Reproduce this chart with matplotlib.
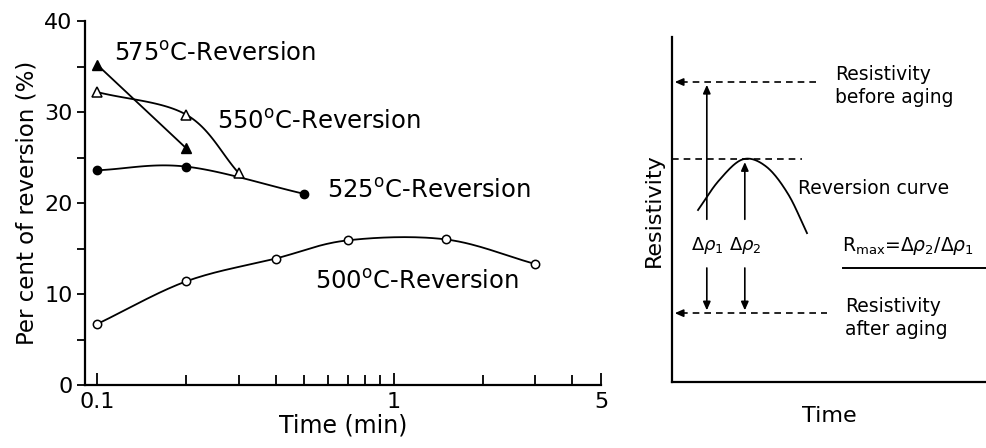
import numpy as np
import matplotlib
matplotlib.use("Agg")
import matplotlib.pyplot as plt

# reversion measurements (time in min, percent of reversion)
t_575 = [0.1, 0.2]
r_575 = [35.2, 26.0]
t_550 = [0.1, 0.2, 0.3]
r_550 = [32.2, 29.7, 23.3]
t_525 = [0.1, 0.2, 0.5]
r_525 = [23.6, 24.0, 21.0]
t_500 = [0.1, 0.2, 0.4, 0.7, 1.5, 3.0]
r_500 = [6.7, 11.4, 13.9, 15.9, 16.0, 13.3]

# schematic reversion curve on the right (normalised coordinates)
curve_x = [0.083, 0.15, 0.226, 0.30, 0.37, 0.43]
curve_y = [0.499, 0.585, 0.646, 0.625, 0.545, 0.432]
level_before = 0.870
level_peak = 0.646
level_after = 0.200


def smooth(xs, ys, logx=False, n=30):
    """Catmull-Rom curve through the given points (for drawing only)."""
    x = np.log10(xs) if logx else np.asarray(xs, float)
    y = np.asarray(ys, float)
    if len(x) < 3:
        return np.asarray(xs, float), y
    px = np.concatenate([[2 * x[0] - x[1]], x, [2 * x[-1] - x[-2]]])
    py = np.concatenate([[2 * y[0] - y[1]], y, [2 * y[-1] - y[-2]]])
    ox, oy = [], []
    s = np.linspace(0, 1, n)
    for i in range(1, len(px) - 2):
        for arr, out in ((px, ox), (py, oy)):
            p0, p1, p2, p3 = arr[i - 1:i + 3]
            out.extend(0.5 * (2 * p1 + (-p0 + p2) * s
                              + (2 * p0 - 5 * p1 + 4 * p2 - p3) * s ** 2
                              + (-p0 + 3 * p1 - 3 * p2 + p3) * s ** 3))
    ox = np.array(ox)
    return (10 ** ox if logx else ox), np.array(oy)


plt.rcParams["font.family"] = "DejaVu Sans"
fig = plt.figure(figsize=(9.86, 4.48), dpi=100)

# ---- left: percent of reversion vs time ----
ax = fig.add_axes([0.0862, 0.1406, 0.5233, 0.8124])
ax.set_xscale("log")
ax.set_xlim(0.091, 5)
ax.set_ylim(0, 40)

lw = 1.3
ax.plot(t_575, r_575, color="black", lw=lw, zorder=2)
for tx, ry in ((t_550, r_550), (t_525, r_525), (t_500, r_500)):
    sx, sy = smooth(tx, ry, logx=True)
    ax.plot(sx, sy, color="black", lw=lw, zorder=2)

ms = 6
ax.plot(t_575, r_575, "^", color="black", ms=ms + 1, zorder=3)
ax.plot(t_550, r_550, "^", mfc="white", mec="black", mew=1.1, ms=ms + 1, zorder=3)
ax.plot(t_525, r_525, "o", color="black", ms=ms, zorder=3)
ax.plot(t_500, r_500, "o", mfc="white", mec="black", mew=1.1, ms=ms, zorder=3)

fs = 17.5
ax.text(0.114, 36.4, "575$^{\\rm o}$C-Reversion", fontsize=fs, va="center")
ax.text(0.253, 28.9, "550$^{\\rm o}$C-Reversion", fontsize=fs, va="center")
ax.text(0.596, 21.3, "525$^{\\rm o}$C-Reversion", fontsize=fs, va="center")
ax.text(0.542, 11.3, "500$^{\\rm o}$C-Reversion", fontsize=fs, va="center")

for side in ("top", "right"):
    ax.spines[side].set_visible(False)
for side in ("left", "bottom"):
    ax.spines[side].set_linewidth(1.6)

ax.set_yticks([0, 10, 20, 30, 40])
ax.set_yticks([5, 15, 25, 35], minor=True)
ax.tick_params(axis="y", which="both", direction="out", length=6, width=1.3,
               labelsize=16, pad=3)
ax.set_xticks([0.1, 1, 5])
ax.set_xticklabels(["0.1", "1", "5"])
ax.set_xticks([0.2, 0.3, 0.4, 0.5, 0.6, 0.7, 0.8, 0.9, 2, 3, 4], minor=True)
ax.xaxis.set_minor_formatter(matplotlib.ticker.NullFormatter())
ax.tick_params(axis="x", which="major", direction="in", length=9, width=1.3,
               labelsize=16, pad=5)
ax.tick_params(axis="x", which="minor", direction="in", length=7, width=1.3)
ax.set_xlabel("Time (min)", fontsize=17, labelpad=1)
ax.set_ylabel("Per cent of reversion (%)", fontsize=16.5, labelpad=4)

# ---- right: definition of maximum reversion ----
bx = fig.add_axes([0.6815, 0.147, 0.3185, 0.770])
bx.set_xlim(0, 1)
bx.set_ylim(0, 1)
for side in ("top", "right"):
    bx.spines[side].set_visible(False)
for side in ("left", "bottom"):
    bx.spines[side].set_linewidth(1.6)
bx.set_xticks([])
bx.set_yticks([])
bx.set_xlabel("Time", fontsize=16, labelpad=17)
bx.set_ylabel("Resistivity", fontsize=16, labelpad=6)

dash = dict(color="black", lw=1.2, ls=(0, (4, 3)))
bx.plot([0.03, 0.465], [level_before] * 2, **dash)
bx.plot([0.0, 0.414], [level_peak] * 2, **dash)
bx.plot([0.03, 0.494], [level_after] * 2, **dash)
head = dict(arrowstyle="-|>,head_length=0.5,head_width=0.22", color="black", lw=1.2)
for lvl in (level_before, level_after):
    bx.annotate("", xy=(0.0, lvl), xytext=(0.04, lvl), arrowprops=head)

cx, cy = smooth(curve_x, curve_y)
bx.plot(cx, cy, color="black", lw=1.3)

for ax_x, top, name in ((0.111, level_before, "1"), (0.232, level_peak, "2")):
    bx.annotate("", xy=(ax_x, top), xytext=(ax_x, 0.464), arrowprops=head)
    bx.annotate("", xy=(ax_x, level_after), xytext=(ax_x, 0.339), arrowprops=head)
    bx.text(ax_x, 0.395, "$\\Delta\\rho_{%s}$" % name, fontsize=13,
            ha="center", va="center")

bx.text(0.519, 0.858, "Resistivity\nbefore aging", fontsize=13.5, va="center",
        linespacing=1.25)
bx.text(0.401, 0.562, "Reversion curve", fontsize=13.5, va="center")
bx.text(0.540, 0.395, "R$_{\\rm max}$=$\\Delta\\rho_2/\\Delta\\rho_1$", fontsize=13.5,
        va="center")
bx.plot([0.545, 1.0], [0.330, 0.330], color="black", lw=1.4, clip_on=False)
bx.text(0.551, 0.186, "Resistivity\nafter aging", fontsize=13.5, va="center",
        linespacing=1.25)

fig.savefig("out.png", dpi=100)
